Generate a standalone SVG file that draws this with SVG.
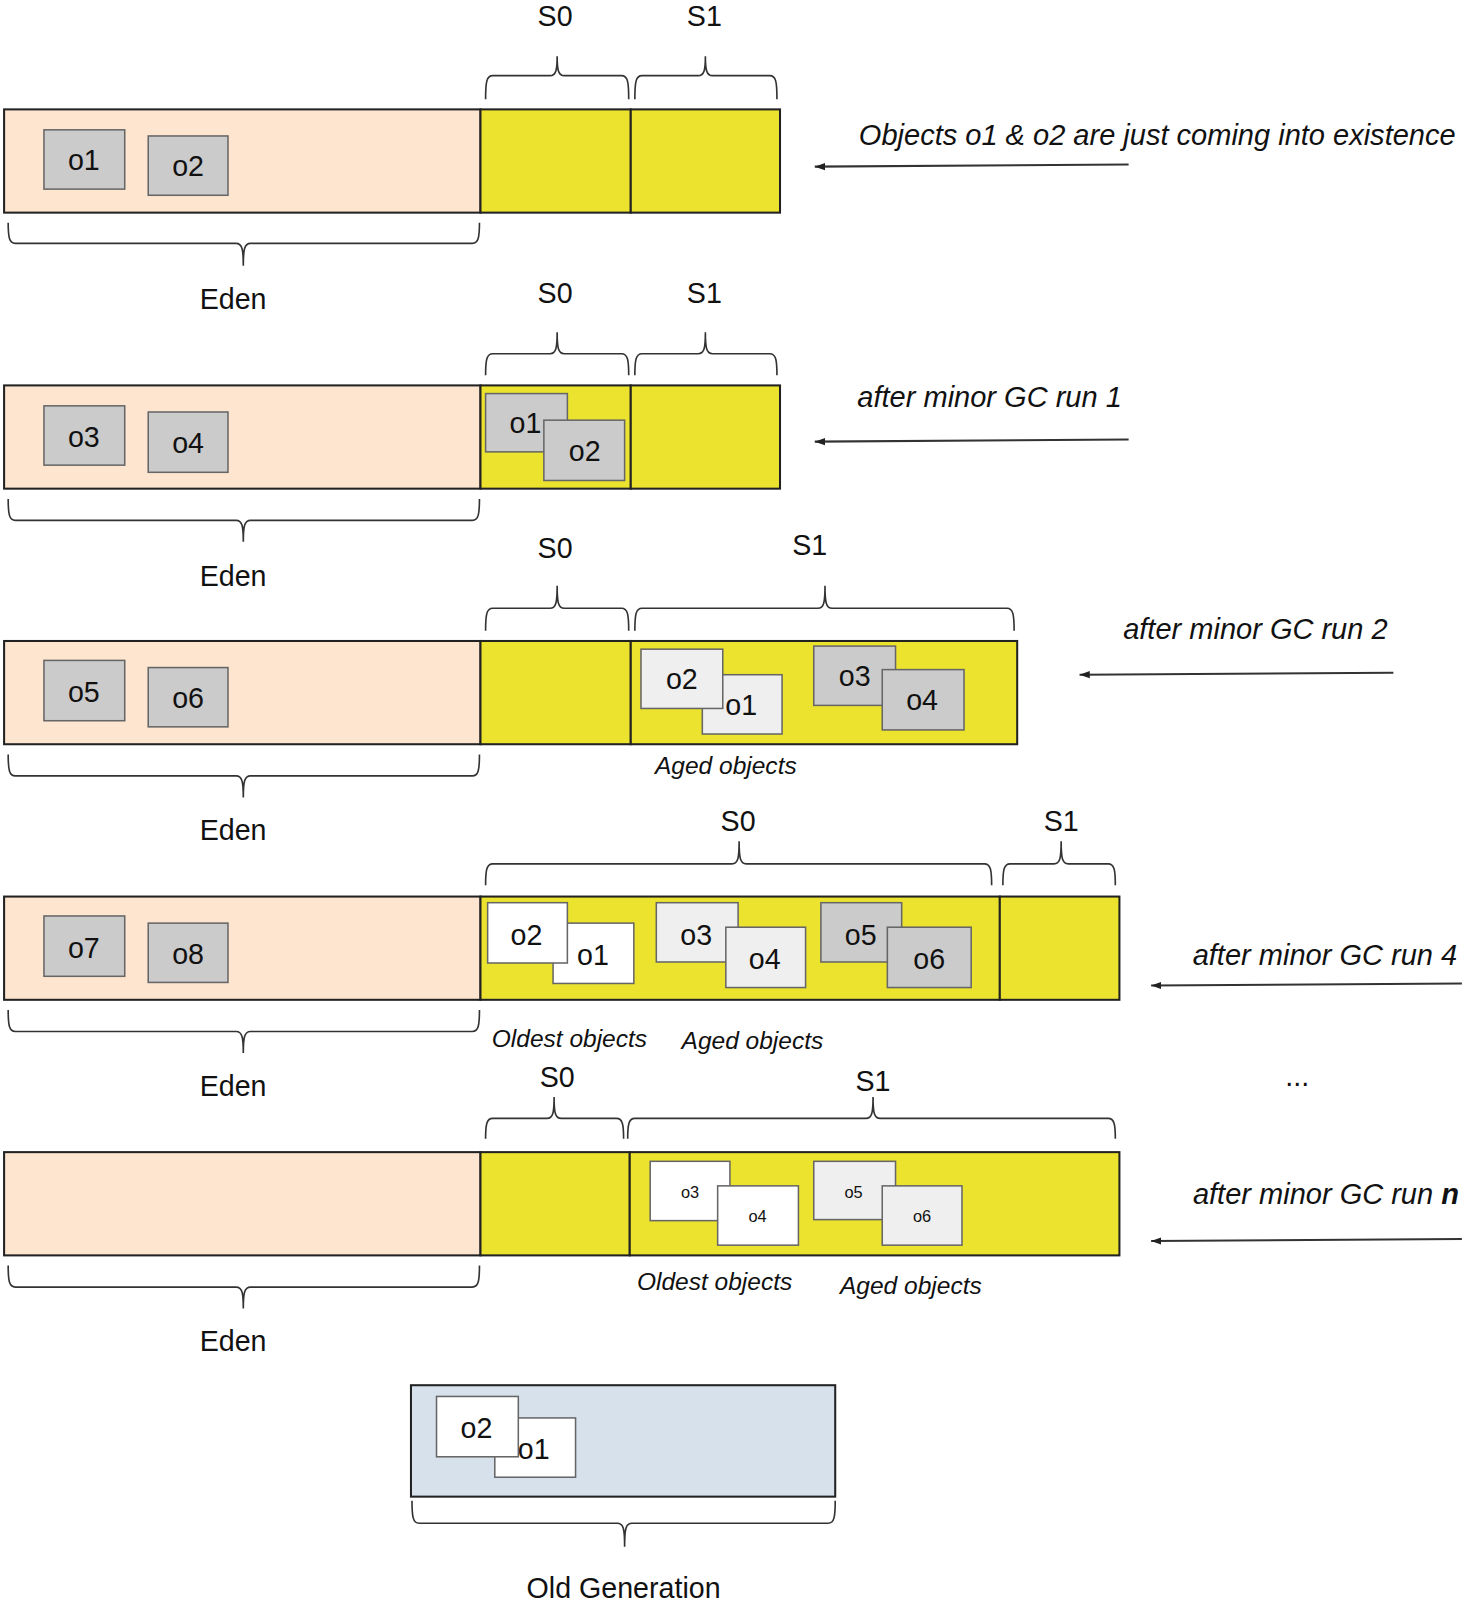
<svg xmlns="http://www.w3.org/2000/svg" width="1467" height="1603" viewBox="0 0 1467 1603">
  <defs>
    <style>
      .eden { fill: #fde5cf; stroke: #222; stroke-width: 2; }
      .surv { fill: #ece32f; stroke: #222; stroke-width: 2; }
      .old { fill: #d6e1ec; stroke: #222; stroke-width: 2; }
      .obj { stroke: #666; stroke-width: 1.5; }
      .gray { fill: #cbcbcb; }
      .light { fill: #efefef; }
      .white { fill: #ffffff; }
      .brace { fill: none; stroke: #333; stroke-width: 1.6; }
      .lbl { font-family: "Liberation Sans", Arial, sans-serif; font-size: 28px; fill: #111; text-anchor: middle; }
      .small { font-size: 16px; }
      .note { font-family: "Liberation Sans", Arial, sans-serif; font-size: 28.4px; font-style: italic; fill: #111; text-anchor: middle; }
      .cap { font-family: "Liberation Sans", Arial, sans-serif; font-size: 24px; font-style: italic; fill: #111; text-anchor: middle; }
      .conn { stroke: #333; stroke-width: 2; fill: none; }
    </style>
    <marker id="head" markerWidth="11" markerHeight="8" refX="10" refY="4" orient="auto" markerUnits="userSpaceOnUse">
      <path d="M0,0.5 L10,4 L0,7.5 Z" fill="#222"/>
    </marker>
  </defs>
  <rect width="1467" height="1603" fill="#ffffff"/>
  <g transform="scale(1.02230)">

    <!-- Stage 1: fresh allocation -->
    <g id="stage1">
      <rect class="eden" x="4" y="107" width="466" height="101"/>
      <rect class="surv" x="470" y="107" width="147" height="101"/>
      <rect class="surv" x="617" y="107" width="146" height="101"/>
      <path class="brace" d="M475,97 C475,80 476,74 482,74 H538 C544,74 545,68 545,55 C545,68 546,74 552,74 H608 C614,74 615,80 615,97"/>
      <path class="brace" d="M621,97 C621,80 622,74 628,74 H683 C689,74 690,68 690,55 C690,68 691,74 697,74 H753 C759,74 760,80 760,97"/>
      <path class="brace" d="M8,218 C8,232 9,238 15,238 H231 C237,238 238,244 238,260 C238,244 239,238 245,238 H462 C468,238 469,232 469,218"/>
      <text class="lbl" x="543" y="25">S0</text>
      <text class="lbl" x="689" y="25">S1</text>
      <text class="lbl" x="228" y="302">Eden</text>
      <g id="s1-o1"><rect class="obj gray" x="43" y="127" width="79" height="58"/><text class="lbl" x="82" y="166">o1</text></g>
      <g id="s1-o2"><rect class="obj gray" x="145" y="133" width="78" height="58"/><text class="lbl" x="184" y="172">o2</text></g>
      <text class="note" x="1132" y="142">Objects o1 &amp; o2 are just coming into existence</text>
    </g>

    <!-- Stage 2: after minor GC run 1 -->
    <g id="stage2">
      <rect class="eden" x="4" y="377" width="466" height="101"/>
      <rect class="surv" x="470" y="377" width="147" height="101"/>
      <rect class="surv" x="617" y="377" width="146" height="101"/>
      <path class="brace" d="M475,367 C475,352 476,346 482,346 H538 C544,346 545,340 545,325 C545,340 546,346 552,346 H608 C614,346 615,352 615,367"/>
      <path class="brace" d="M621,367 C621,352 622,346 628,346 H683 C689,346 690,340 690,325 C690,340 691,346 697,346 H753 C759,346 760,352 760,367"/>
      <path class="brace" d="M8,488 C8,503 9,509 15,509 H231 C237,509 238,515 238,530 C238,515 239,509 245,509 H462 C468,509 469,503 469,488"/>
      <text class="lbl" x="543" y="296">S0</text>
      <text class="lbl" x="689" y="296">S1</text>
      <text class="lbl" x="228" y="573">Eden</text>
      <g id="s2-o3"><rect class="obj gray" x="43" y="397" width="79" height="58"/><text class="lbl" x="82" y="437">o3</text></g>
      <g id="s2-o4"><rect class="obj gray" x="145" y="403" width="78" height="59"/><text class="lbl" x="184" y="443">o4</text></g>
      <g id="s2-o1"><rect class="obj gray" x="475" y="385" width="80" height="57"/><text class="lbl" x="514" y="424">o1</text></g>
      <g id="s2-o2"><rect class="obj gray" x="532" y="411" width="79" height="59"/><text class="lbl" x="572" y="451">o2</text></g>
      <text class="note" x="968" y="398">after minor GC run 1</text>
    </g>

    <!-- Stage 3: after minor GC run 2 -->
    <g id="stage3">
      <rect class="eden" x="4" y="627" width="466" height="101"/>
      <rect class="surv" x="470" y="627" width="147" height="101"/>
      <rect class="surv" x="617" y="627" width="378" height="101"/>
      <path class="brace" d="M475,617 C475,601 476,595 482,595 H538 C544,595 545,589 545,573 C545,589 546,595 552,595 H608 C614,595 615,601 615,617"/>
      <path class="brace" d="M621,617 C621,601 622,595 628,595 H800 C806,595 807,589 807,573 C807,589 808,595 814,595 H985 C991,595 992,601 992,617"/>
      <path class="brace" d="M8,738 C8,753 9,759 15,759 H231 C237,759 238,765 238,780 C238,765 239,759 245,759 H462 C468,759 469,753 469,738"/>
      <text class="lbl" x="543" y="546">S0</text>
      <text class="lbl" x="792" y="543">S1</text>
      <text class="lbl" x="228" y="822">Eden</text>
      <g id="s3-o5"><rect class="obj gray" x="43" y="646" width="79" height="59"/><text class="lbl" x="82" y="687">o5</text></g>
      <g id="s3-o6"><rect class="obj gray" x="145" y="653" width="78" height="58"/><text class="lbl" x="184" y="693">o6</text></g>
      <g id="s3-o1"><rect class="obj light" x="687" y="660" width="78" height="58"/><text class="lbl" x="725" y="699">o1</text></g>
      <g id="s3-o2"><rect class="obj light" x="627" y="635" width="80" height="58"/><text class="lbl" x="667" y="674">o2</text></g>
      <g id="s3-o3"><rect class="obj gray" x="796" y="632" width="80" height="58"/><text class="lbl" x="836" y="671">o3</text></g>
      <g id="s3-o4"><rect class="obj gray" x="863" y="655" width="80" height="59"/><text class="lbl" x="902" y="695">o4</text></g>
      <text class="cap" x="710" y="757">Aged objects</text>
      <text class="note" x="1228" y="625">after minor GC run 2</text>
    </g>

    <!-- Stage 4: after minor GC run 4 -->
    <g id="stage4">
      <rect class="eden" x="4" y="877" width="466" height="101"/>
      <rect class="surv" x="470" y="877" width="508" height="101"/>
      <rect class="surv" x="978" y="877" width="117" height="101"/>
      <path class="brace" d="M475,866 C475,851 476,845 482,845 H716 C722,845 723,839 723,823 C723,839 724,845 730,845 H963 C969,845 970,851 970,866"/>
      <path class="brace" d="M981,866 C981,851 982,845 988,845 H1031 C1037,845 1038,839 1038,823 C1038,839 1039,845 1045,845 H1084 C1090,845 1091,851 1091,866"/>
      <path class="brace" d="M8,988 C8,1003 9,1009 15,1009 H231 C237,1009 238,1015 238,1030 C238,1015 239,1009 245,1009 H462 C468,1009 469,1003 469,988"/>
      <text class="lbl" x="722" y="813">S0</text>
      <text class="lbl" x="1038" y="813">S1</text>
      <text class="lbl" x="228" y="1072">Eden</text>
      <g id="s4-o7"><rect class="obj gray" x="43" y="896" width="79" height="59"/><text class="lbl" x="82" y="937">o7</text></g>
      <g id="s4-o8"><rect class="obj gray" x="145" y="903" width="78" height="58"/><text class="lbl" x="184" y="943">o8</text></g>
      <g id="s4-o1"><rect class="obj white" x="541" y="903" width="79" height="59"/><text class="lbl" x="580" y="944">o1</text></g>
      <g id="s4-o2"><rect class="obj white" x="477" y="883" width="78" height="59"/><text class="lbl" x="515" y="924">o2</text></g>
      <g id="s4-o3"><rect class="obj light" x="642" y="883" width="80" height="58"/><text class="lbl" x="681" y="924">o3</text></g>
      <g id="s4-o4"><rect class="obj light" x="710" y="907" width="78" height="59"/><text class="lbl" x="748" y="948">o4</text></g>
      <g id="s4-o5"><rect class="obj gray" x="803" y="883" width="79" height="58"/><text class="lbl" x="842" y="924">o5</text></g>
      <g id="s4-o6"><rect class="obj gray" x="868" y="907" width="82" height="59"/><text class="lbl" x="909" y="948">o6</text></g>
      <text class="cap" x="557" y="1024">Oldest objects</text>
      <text class="cap" x="736" y="1026">Aged objects</text>
      <text class="note" x="1296" y="944">after minor GC run 4</text>
      <text class="lbl" x="1269" y="1062">...</text>
    </g>

    <!-- Stage 5: after minor GC run n -->
    <g id="stage5">
      <rect class="eden" x="4" y="1127" width="466" height="101"/>
      <rect class="surv" x="470" y="1127" width="146" height="101"/>
      <rect class="surv" x="616" y="1127" width="479" height="101"/>
      <path class="brace" d="M475,1114 C475,1100 476,1094 482,1094 H535 C541,1094 542,1088 542,1073 C542,1088 543,1094 549,1094 H603 C609,1094 610,1100 610,1114"/>
      <path class="brace" d="M614,1114 C614,1100 615,1094 621,1094 H847 C853,1094 854,1088 854,1073 C854,1088 855,1094 861,1094 H1084 C1090,1094 1091,1100 1091,1114"/>
      <path class="brace" d="M8,1238 C8,1253 9,1259 15,1259 H231 C237,1259 238,1265 238,1280 C238,1265 239,1259 245,1259 H462 C468,1259 469,1253 469,1238"/>
      <text class="lbl" x="545" y="1063">S0</text>
      <text class="lbl" x="854" y="1067">S1</text>
      <text class="lbl" x="228" y="1322">Eden</text>
      <g id="s5-o3"><rect class="obj white" x="636" y="1136" width="78" height="58"/><text class="lbl small" x="675" y="1172">o3</text></g>
      <g id="s5-o4"><rect class="obj white" x="702" y="1160" width="79" height="58"/><text class="lbl small" x="741" y="1195">o4</text></g>
      <g id="s5-o5"><rect class="obj light" x="796" y="1136" width="80" height="57"/><text class="lbl small" x="835" y="1172">o5</text></g>
      <g id="s5-o6"><rect class="obj light" x="863" y="1160" width="78" height="58"/><text class="lbl small" x="902" y="1195">o6</text></g>
      <text class="cap" x="699" y="1262">Oldest objects</text>
      <text class="cap" x="891" y="1266">Aged objects</text>
      <text class="note" x="1297" y="1178">after minor GC run <tspan font-weight="bold">n</tspan></text>
    </g>

    <!-- Old generation -->
    <g id="old-generation">
      <rect class="old" x="402" y="1355" width="415" height="109"/>
      <path class="brace" d="M403,1468 C403,1484 404,1490 410,1490 H604 C610,1490 611,1496 611,1513 C611,1496 612,1490 618,1490 H810 C816,1490 817,1484 817,1468"/>
      <g id="old-o1"><rect class="obj white" x="484" y="1387" width="79" height="58"/><text class="lbl" x="522" y="1427">o1</text></g>
      <g id="old-o2"><rect class="obj white" x="427" y="1366" width="80" height="59"/><text class="lbl" x="466" y="1407">o2</text></g>
      <text class="lbl" x="610" y="1563">Old Generation</text>
    </g>

    <!-- Pointers from each caption to its stage -->
    <g id="connectors">
      <line class="conn" x1="1104" y1="161" x2="797" y2="163" marker-end="url(#head)"/>
      <line class="conn" x1="1104" y1="430" x2="797" y2="432" marker-end="url(#head)"/>
      <line class="conn" x1="1363" y1="658" x2="1056" y2="660" marker-end="url(#head)"/>
      <line class="conn" x1="1430" y1="962" x2="1126" y2="964" marker-end="url(#head)"/>
      <line class="conn" x1="1430" y1="1212" x2="1126" y2="1214" marker-end="url(#head)"/>
    </g>
  </g>
</svg>
